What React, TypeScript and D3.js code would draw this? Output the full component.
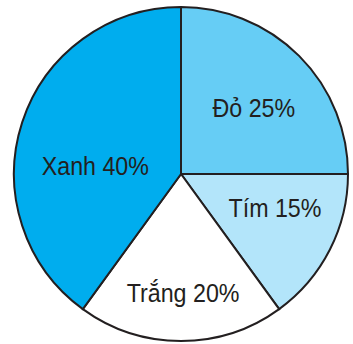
import React from "react";
import * as d3 from "d3";

const categories = ["Đỏ", "Tím", "Trắng", "Xanh"];
const values = [25, 15, 20, 40];
const colors = ["#66cdf5", "#b3e5fa", "#ffffff", "#00adee"];

// layout of labels: angle (degrees clockwise from 12 o'clock) and distance from centre
const labelAngles = [48, 110, 179, 275];
const labelRadii = [98, 100, 119, 86];

const W = 353;
const H = 344;
const CX = 181;
const CY = 174;
const R = 167;

export default function App() {
  const data = categories.map((c, i) => ({ name: c, value: values[i], color: colors[i] }));
  const pie = d3.pie<any>().value((d) => d.value).sort(null);
  const arcs = pie(data);
  const arc = d3.arc<any>().innerRadius(0).outerRadius(R);
  return (
    <svg
      width={W}
      height={H}
      style={{ position: "absolute", left: 0, top: 0, background: "#fff" }}
    >
      <g transform={`translate(${CX},${CY})`}>
        {arcs.map((a, i) => (
          <path
            key={i}
            d={arc(a) as string}
            fill={a.data.color}
            stroke="#231f20"
            strokeWidth={2}
            strokeLinejoin="miter"
          />
        ))}
        {arcs.map((a, i) => {
          const ang = (labelAngles[i] * Math.PI) / 180;
          const x = Math.sin(ang) * labelRadii[i];
          const y = -Math.cos(ang) * labelRadii[i];
          return (
            <text
              key={"t" + i}
              transform={`translate(${x},${y}) scale(0.93,1)`}
              textAnchor="middle"
              dy="0.35em"
              fontFamily="'Liberation Sans', Arial, sans-serif"
              fontSize={25}
              fill="#231f20"
            >
              {`${a.data.name} ${a.data.value}%`}
            </text>
          );
        })}
      </g>
    </svg>
  );
}
